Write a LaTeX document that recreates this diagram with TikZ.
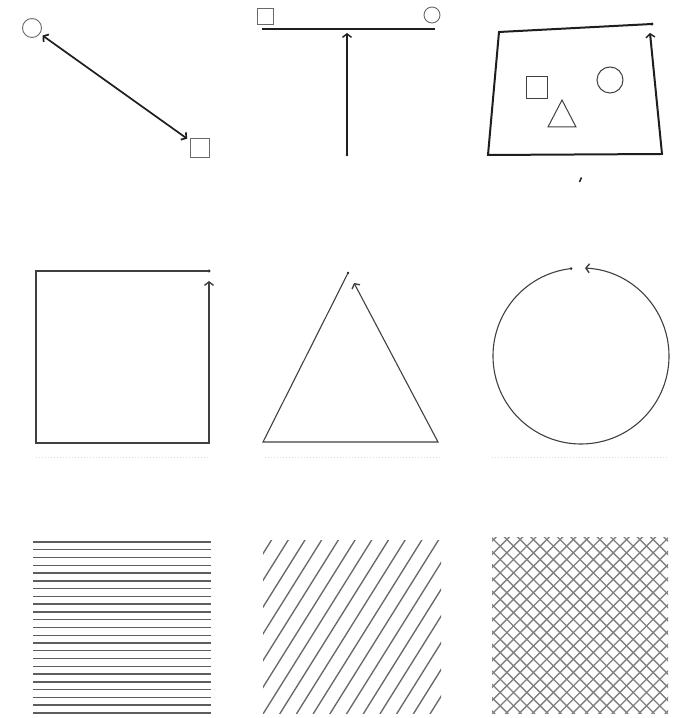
\documentclass[tikz,border=0pt]{standalone}
\usepackage{tikz}
\usetikzlibrary{arrows.meta,positioning,calc}
\definecolor{inkgray}{RGB}{30,30,30}
\definecolor{pencil}{RGB}{105,105,105}
\definecolor{faint}{RGB}{220,220,220}

\begin{document}
\begin{tikzpicture}[x=1pt, y=1pt,
    ink/.style={draw=inkgray, line width=2pt, line join=miter},
    fine/.style={draw=inkgray!85, line width=1.1pt},
    shp/.style={draw=pencil, line width=0.9pt, inner sep=0pt},
    ring/.style={shp, circle},
    box/.style={shp, rectangle},
    dot/.style={circle, fill=inkgray, inner sep=0pt, minimum size=3.2pt},
    tip/.style={-{Straight Barb[length=3.5pt,width=9pt,line width=1.4pt]}},
    hatch/.style={draw=pencil, line width=1.35pt},
]
    \useasboundingbox (0,0) rectangle (676,718);
    % Row 1, left: link between circle and square
    \node[ring, minimum size=19pt] (c1) at (32,690) {};
    \node[box, minimum size=19pt] (s1) at (199.5,570.5) {};
    \draw[ink, line width=1.7pt, {Straight Barb[length=3.5pt,width=9pt]}-{Straight Barb[length=3.5pt,width=9pt]},
        shorten <=3pt, shorten >=3pt] (c1) -- (s1);
    % Row 1, middle: bar and stem
    \node[box, minimum size=16pt] (s2) at (265,702) {};
    \node[ring, minimum size=16pt] (c2) at (432,703) {};
    \coordinate (barl) at (262,689);
    \coordinate (barr) at (435,689);
    \coordinate (stem) at (347,563);
    \draw[ink] (barl) -- (barr);
    \node[dot, minimum size=2.8pt] (stemdot) at (stem) {};
    \draw[ink, tip, shorten >=4pt] (stem) -- (stem |- barl);
    % Row 1, right: frame with small shapes
    \coordinate (q1) at (652,694);
    \coordinate (q2) at (499,686);
    \coordinate (q3) at (488,563);
    \coordinate (q4) at (662,564);
    \coordinate (q5) at (650,685);
    \node[dot] (qdot) at (q1) {};
    \draw[ink, tip] (q1) -- (q2) -- (q3) -- (q4) -- (q5);
    \node[box, draw=inkgray!85, line width=1pt, minimum width=21pt, minimum height=22pt] (sq3) at (536.5,630) {};
    \node[ring, draw=inkgray!85, line width=1pt, minimum size=26pt] (ci3) at (610,638) {};
    \draw[fine, line width=1pt] (562,618) -- (548,591) -- (576,591) -- cycle;
    \draw[ink, line width=1.5pt] (579.5,536) -- (581.5,540.5);
    % Row 2, left: square
    \coordinate (a1) at (209,447);
    \coordinate (a2) at (36,447);
    \coordinate (a3) at (36,275);
    \coordinate (a4) at (209,275);
    \coordinate (a5) at (209,437);
    \node[dot] (adot) at (a1) {};
    \draw[fine, tip] (a1) -- (a2) -- (a3) -- (a4) -- (a5);
    % Row 2, middle: triangle
    \coordinate (t1) at (348,445);
    \coordinate (t2) at (263,276);
    \coordinate (t3) at (438,276);
    \coordinate (t4) at (354,435);
    \node[dot, minimum size=2.8pt] (tdot) at (t1) {};
    \draw[fine, tip] (t1) -- (t2) -- (t3) -- (t4);
    % Row 2, right: circle
    \coordinate (o6) at (581,362);
    \coordinate (o6s) at ($(o6)+(96.5:88)$);
    \node[dot, minimum size=2.8pt] (odot) at (o6s) {};
    \draw[fine, tip] (o6s) arc[start angle=96.5, end angle=447.4, radius=88];
    % faint base marks
    \draw[faint, dotted, line width=1pt] (36,260) -- (209,260);
    \draw[faint, dotted, line width=1pt] (265,260) -- (440,260);
    \draw[faint, dotted, line width=1pt] (492,260) -- (668,260);
    % Row 3, left: horizontal hatching
    \foreach \k in {0,...,22}
        \draw[hatch, draw=pencil!90!black] (33,{176-\k*7.77}) -- (211,{176-\k*7.77});
    % Row 3, middle: slanted hatching
    \begin{scope}
    \clip (263,4) rectangle (441,177);
    \foreach \k in {-7,...,10}
        \draw[hatch] ({263+\k*16.7},4) -- ++(58:210);
    \end{scope}
    % Row 3, right: cross hatching
    \begin{scope}
    \clip (492,4) rectangle (668,180);
    \foreach \k in {-14,...,14} {
        \draw[hatch, draw=pencil!85] ({492+\k*13.3},4) -- ++(45:260);
        \draw[hatch, draw=pencil!85] ({668-\k*13.3},4) -- ++(135:260);
    }
    \end{scope}
\end{tikzpicture}
\end{document}
